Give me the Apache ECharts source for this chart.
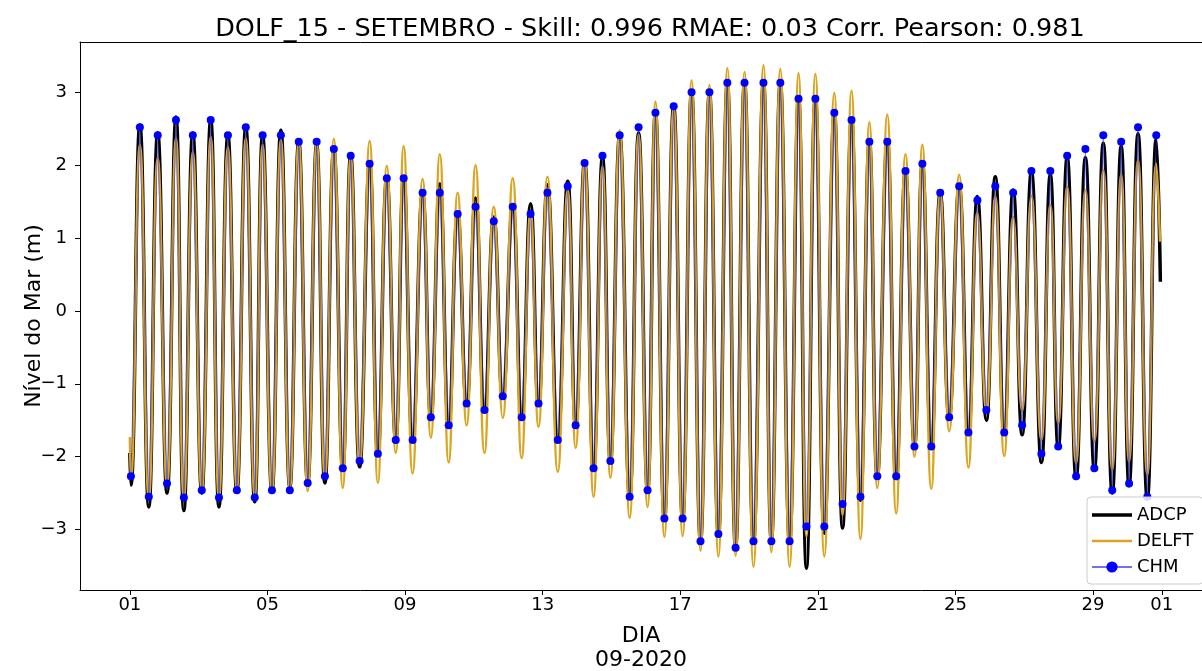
<!DOCTYPE html>
<html><head><meta charset="utf-8">
<script src="https://cdn.jsdelivr.net/npm/echarts@6/dist/echarts.min.js"></script>
<style>html,body{margin:0;padding:0;background:#fff}#c{width:1202px;height:671px}</style>
</head><body><div id="c"></div>
<script>
// Times are in days since 2020-09-01 00:00
const highDay = [0.29,0.81,1.34,1.83,2.35,2.85,3.37,3.86,4.39,4.91,
  5.43,5.93,6.42,6.97,7.47,7.96,8.51,9.01,9.53,10.05,
  10.58,11.13,11.65,12.14,12.73,13.22,13.74,14.24,14.79,15.28,
  15.81,16.33,16.85,17.37,17.87,18.42,18.91,19.44,19.93,20.48,
  20.98,21.50,22.02,22.55,23.04,23.56,24.11,24.64,25.16,25.68,
  26.21,26.76,27.25,27.78,28.30,28.82,29.31,29.84];
const lowDay = [0.03,0.55,1.08,1.57,2.09,2.59,3.11,3.63,4.13,4.65,
  5.17,5.67,6.19,6.68,7.21,7.73,8.22,8.75,9.27,9.79,
  10.31,10.84,11.39,11.88,12.44,12.96,13.48,13.97,14.53,15.05,
  15.54,16.07,16.59,17.11,17.61,18.13,18.65,19.18,19.67,20.19,
  20.72,21.24,21.73,22.28,22.81,23.30,23.82,24.38,24.90,25.42,
  25.94,26.50,26.99,27.51,28.04,28.56,29.05,29.58];

const chmHigh = [2.52,2.41,2.62,2.41,2.62,2.41,2.52,2.41,2.41,2.32,
  2.32,2.22,2.13,2.02,1.82,1.82,1.62,1.62,1.33,1.43,
  1.23,1.43,1.33,1.62,1.71,2.03,2.13,2.41,2.52,2.72,
  2.81,3.00,3.00,3.13,3.13,3.13,3.13,2.91,2.91,2.72,
  2.62,2.32,2.32,1.92,2.02,1.62,1.71,1.52,1.71,1.62,
  1.92,1.92,2.13,2.22,2.41,2.32,2.52,2.41];
const chmLow = [-2.27,-2.55,-2.37,-2.56,-2.46,-2.56,-2.46,-2.56,-2.46,-2.46,
  -2.36,-2.27,-2.16,-2.06,-1.96,-1.77,-1.77,-1.46,-1.57,-1.27,
  -1.36,-1.17,-1.46,-1.27,-1.77,-1.57,-2.16,-2.06,-2.55,-2.46,
  -2.85,-2.85,-3.16,-3.06,-3.25,-3.16,-3.16,-3.16,-2.96,-2.96,
  -2.65,-2.55,-2.27,-2.27,-1.86,-1.86,-1.46,-1.67,-1.36,-1.67,
  -1.57,-1.96,-1.86,-2.27,-2.16,-2.46,-2.37,-2.55];

const adcpHigh = [2.55,2.44,2.66,2.44,2.62,2.41,2.52,2.41,2.48,2.32,
  2.28,2.22,2.13,2.02,1.82,1.82,1.62,1.74,1.33,1.55,
  1.29,1.43,1.47,1.73,1.78,2.05,2.11,2.41,2.44,2.72,
  2.81,3.00,3.00,3.13,3.13,3.13,3.13,2.91,2.91,2.72,
  2.62,2.32,2.32,1.92,2.02,1.62,1.71,1.57,1.84,1.66,
  1.91,1.87,2.11,2.10,2.30,2.26,2.43,2.36];
const adcpLow = [-2.39,-2.69,-2.50,-2.74,-2.50,-2.69,-2.48,-2.62,-2.48,-2.42,
  -2.36,-2.36,-2.16,-2.14,-1.96,-1.77,-1.77,-1.46,-1.57,-1.27,
  -1.36,-1.17,-1.46,-1.27,-1.77,-1.57,-2.16,-2.06,-2.55,-2.46,
  -2.85,-2.85,-3.16,-3.06,-3.25,-3.16,-3.16,-3.16,-3.53,-3.05,
  -2.98,-2.60,-2.27,-2.30,-1.86,-1.86,-1.46,-1.67,-1.50,-1.67,
  -1.70,-2.08,-1.88,-2.30,-2.18,-2.50,-2.40,-2.58];
const adcpStart = [0.00, -1.95];
const adcpEnd = [29.96, 0.40];

const delftHigh = [2.28,2.10,2.37,2.18,2.39,2.25,2.37,2.28,2.35,2.32,
  2.30,2.36,2.12,2.33,1.99,2.26,1.81,2.15,1.62,2.00,
  1.43,1.82,1.36,1.84,1.66,2.07,1.98,2.48,2.42,2.87,
  2.80,3.16,3.10,3.33,3.28,3.37,3.32,3.26,3.25,2.99,
  3.02,2.59,2.69,2.15,2.28,1.62,1.87,1.35,1.57,1.29,
  1.58,1.45,1.70,1.66,1.93,1.87,2.07,2.02];
const delftLow = [-2.30,-2.57,-2.40,-2.58,-2.48,-2.58,-2.45,-2.56,-2.50,-2.45,
  -2.47,-2.30,-2.43,-2.10,-2.36,-1.95,-2.23,-1.74,-2.08,-1.57,
  -1.95,-1.47,-2.02,-1.59,-2.21,-1.88,-2.55,-2.29,-2.84,-2.69,
  -3.10,-3.09,-3.29,-3.37,-3.36,-3.51,-3.31,-3.51,-3.10,-3.37,
  -2.80,-3.13,-2.43,-2.78,-2.00,-2.44,-1.65,-2.15,-1.40,-1.99,
  -1.38,-1.77,-1.54,-2.09,-1.79,-2.18,-2.07,-2.25];
const delftStart = [0.00, -1.73];
const delftEnd = [29.95, 0.95];

const xTickDays = [0,4,8,12,16,20,24,28,30];
const xTickLabels = ['01','05','09','13','17','21','25','29','01'];
const yTicks = [-3,-2,-1,0,1,2,3];

function interleave(lo, hi) {
  const out = [];
  for (let i = 0; i < lowDay.length; i++) {
    out.push([lowDay[i], lo[i]]);
    out.push([highDay[i], hi[i]]);
  }
  return out;
}
const adcpData = [adcpStart].concat(interleave(adcpLow, adcpHigh), [adcpEnd]);
const delftData = [delftStart].concat(interleave(delftLow, delftHigh), [delftEnd]);
const chmData = interleave(chmLow, chmHigh);

const FONT = 'DejaVu Sans';
const X_MIN = -1.45, X_MAX = 31.17;
const chart = echarts.init(document.getElementById('c'), null, {renderer: 'canvas'});
chart.setOption({
  animation: false,
  backgroundColor: '#fff',
  textStyle: {fontFamily: FONT},
  title: {
    text: 'DOLF_15 - SETEMBRO - Skill: 0.996 RMAE: 0.03 Corr. Pearson: 0.981',
    left: 645, top: 11, textAlign: 'center',
    textStyle: {fontFamily: FONT, fontSize: 25.5, fontWeight: 'normal', color: '#000'}
  },
  grid: {left: 80, right: 0, top: 42, bottom: 81, show: false, containLabel: false, outerBoundsMode: 'none'},
  legend: {
    orient: 'vertical', left: 1087, top: 497,
    itemWidth: 40, itemHeight: 14, itemGap: 8,
    padding: [9, 10, 8, 4],
    backgroundColor: 'rgba(255,255,255,0.85)', borderColor: '#ccc', borderWidth: 1, borderRadius: 4,
    textStyle: {fontFamily: FONT, fontSize: 18, color: '#000'},
    data: [
      {name: 'ADCP', icon: 'path://M0,0H40V3.6H0Z'},
      {name: 'DELFT', icon: 'path://M0,0H40V2.6H0Z'},
      {name: 'CHM'}
    ]
  },
  xAxis: [{
    type: 'value', min: X_MIN, max: X_MAX, position: 'bottom',
    name: 'DIA\n09-2020', nameLocation: 'middle', nameGap: 34, nameMoveOverlap: false,
    nameTextStyle: {fontFamily: FONT, fontSize: 22, color: '#000', lineHeight: 24},
    axisLine: {show: true, onZero: false, lineStyle: {color: '#000', width: 1}},
    axisTick: {show: true, length: 5, lineStyle: {color: '#000'}, customValues: xTickDays},
    axisLabel: {
      customValues: xTickDays, fontFamily: FONT, fontSize: 18, color: '#000', margin: 6,
      formatter: v => xTickLabels[xTickDays.indexOf(v)]
    },
    splitLine: {show: false}
  }, {
    type: 'value', min: X_MIN, max: X_MAX, position: 'top',
    axisLine: {show: true, onZero: false, lineStyle: {color: '#000', width: 1}},
    axisTick: {show: false}, axisLabel: {show: false}, splitLine: {show: false}
  }],
  yAxis: {
    type: 'value', min: -3.83, max: 3.69,
    name: 'Nível do Mar (m)', nameLocation: 'middle', nameGap: 35, nameMoveOverlap: false,
    nameTextStyle: {fontFamily: FONT, fontSize: 22, color: '#000'},
    axisLine: {show: true, onZero: false, lineStyle: {color: '#000', width: 1}},
    axisTick: {show: true, length: 5, lineStyle: {color: '#000'}, customValues: yTicks},
    axisLabel: {
      customValues: yTicks, fontFamily: FONT, fontSize: 18, color: '#000', margin: 13,
      formatter: v => (v < 0 ? '\u2212' + Math.abs(v) : String(v))
    },
    splitLine: {show: false}
  },
  series: [
    {name: 'ADCP', type: 'line', data: adcpData, smooth: 0.5, showSymbol: false, symbol: 'none',
     lineStyle: {color: '#000', width: 3.5}, itemStyle: {color: '#000'}},
    {name: 'DELFT', type: 'line', data: delftData, smooth: 0.5, showSymbol: false, symbol: 'none',
     lineStyle: {color: '#DAA520', width: 2.5}, itemStyle: {color: '#DAA520'}},
    {name: 'CHM', type: 'line', data: chmData, symbol: 'circle', symbolSize: 8, showSymbol: true,
     lineStyle: {color: '#3333ff', width: 0.7, opacity: 0.7}, itemStyle: {color: '#0000ff'}}
  ]
});
</script></body></html>
